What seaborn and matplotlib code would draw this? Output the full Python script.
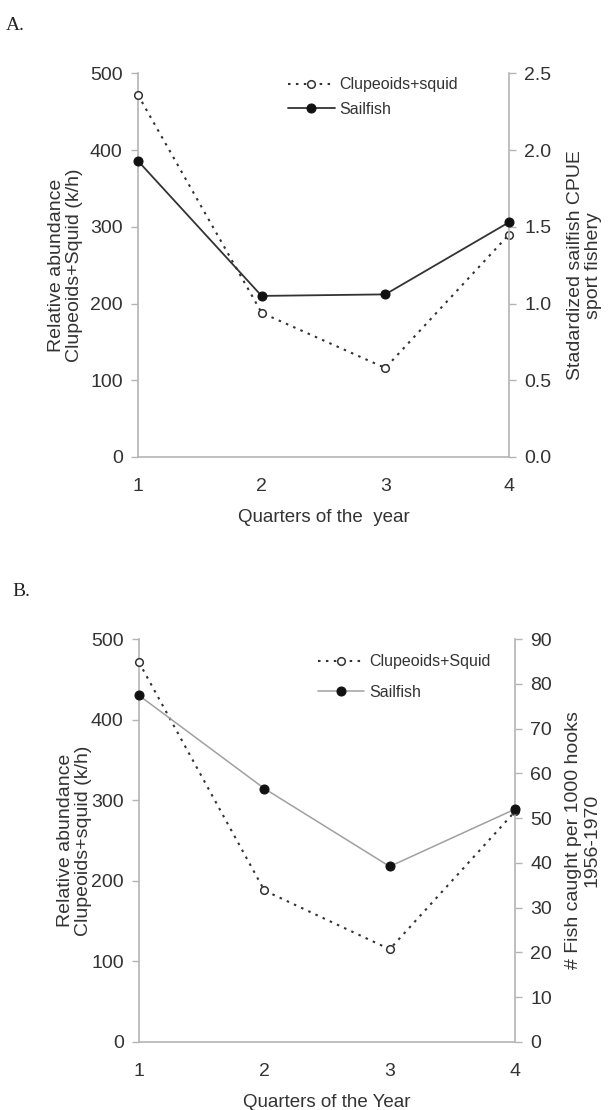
import numpy as np
import pandas as pd
import matplotlib
matplotlib.use("Agg")
import matplotlib.pyplot as plt
import seaborn as sns

# Quarterly values
quarters = [1, 2, 3, 4]
clupeoids_a = [472, 188, 116, 290]           # relative abundance (k/h)
sailfish_cpue_a = [1.93, 1.05, 1.06, 1.53]   # standardized CPUE, sport fishery
clupeoids_b = [471, 188, 115, 286]           # relative abundance (k/h)
sailfish_hooks_b = [77.4, 56.6, 39.2, 52.0]  # fish per 1000 hooks, 1956-1970

left_ticks = [0, 100, 200, 300, 400, 500]
right_ticks_a = [0.0, 0.5, 1.0, 1.5, 2.0, 2.5]
right_ticks_b = [0, 10, 20, 30, 40, 50, 60, 70, 80, 90]

sns.set_style("white")
plt.rcParams["font.family"] = ["Liberation Sans", "DejaVu Sans"]

SPINE = "#b4b4b4"
TEXT = "#333333"
FS_TICK = 14
FS_LABEL = 14
FS_LEG = 11.5

fig = plt.figure(figsize=(6.1, 11.1), dpi=100)


def style_axis(ax, side):
    for s in ax.spines.values():
        s.set_visible(False)
    ax.spines["bottom"].set_visible(True)
    ax.spines["bottom"].set_color(SPINE)
    ax.spines["bottom"].set_linewidth(1.2)
    ax.spines[side].set_visible(True)
    ax.spines[side].set_color(SPINE)
    ax.spines[side].set_linewidth(1.2)
    ax.tick_params(axis="both", colors=SPINE, labelcolor=TEXT,
                   labelsize=FS_TICK, length=5, width=1.0, direction="out")


def panel(rect, clup, sail, rticks, rlim, rfmt, llabel, rlabel, xlabel,
          sail_color, sail_lw, lcoord, rcoord):
    ax = fig.add_axes(rect)
    ax2 = ax.twinx()

    df1 = pd.DataFrame({"quarter": quarters, "value": clup})
    df2 = pd.DataFrame({"quarter": quarters, "value": sail})

    sns.lineplot(data=df1, x="quarter", y="value", ax=ax, color="#333333",
                 linestyle=(0, (1.2, 2.6)), linewidth=1.5, marker="o",
                 markersize=5.5, markerfacecolor="white",
                 markeredgecolor="#333333", markeredgewidth=1.1,
                 legend=False, clip_on=False, zorder=3)
    sns.lineplot(data=df2, x="quarter", y="value", ax=ax2, color=sail_color,
                 linewidth=sail_lw, marker="o", markersize=6.5,
                 markerfacecolor="#111111", markeredgecolor="#111111",
                 legend=False, clip_on=False, zorder=3)

    ax.set_xlim(1, 4)
    ax.set_ylim(0, 500)
    ax2.set_ylim(*rlim)
    ax.set_xticks(quarters)
    ax.set_yticks(left_ticks)
    ax2.set_yticks(rticks)
    ax2.set_yticklabels([rfmt.format(v) for v in rticks])

    style_axis(ax, "left")
    style_axis(ax2, "right")
    ax2.spines["bottom"].set_visible(False)
    ax.tick_params(axis="x", pad=11, length=4)
    ax.tick_params(axis="y", pad=6)
    ax2.tick_params(axis="y", pad=6)

    ax.set_xlabel(xlabel, fontsize=13.5, color=TEXT, labelpad=10)
    ax.set_ylabel(llabel, fontsize=FS_LABEL, color=TEXT, linespacing=1.1)
    ax2.set_ylabel(rlabel, fontsize=FS_LABEL, color=TEXT, linespacing=1.1,
                   rotation=90)
    ax.yaxis.set_label_coords(lcoord, 0.5)
    ax2.yaxis.set_label_coords(rcoord, 0.5)

    return ax, ax2, ax.lines[0], ax2.lines[0]


def add_legend(ax2, handles, labels, anchor, spacing):
    leg = ax2.legend(handles, labels, loc="upper left", bbox_to_anchor=anchor,
                     frameon=False, fontsize=FS_LEG, handlelength=2.9,
                     handletextpad=0.3, labelspacing=spacing,
                     borderaxespad=0.0, borderpad=0.0)
    for t in leg.get_texts():
        t.set_color(TEXT)
    return leg


# Panel A
axA, axA2, hA1, hA2 = panel(
    [0.2262, 0.5883, 0.6082, 0.3455], clupeoids_a, sailfish_cpue_a,
    right_ticks_a, (0, 2.5), "{:.1f}",
    "Relative abundance\nClupeoids+Squid (k/h)",
    "Stadardized sailfish CPUE\nsport fishery",
    "Quarters of the  year", "#333333", 1.3, -0.148, 1.156)
add_legend(axA2, [hA1, hA2], ["Clupeoids+squid", "Sailfish"],
           (0.405, 0.99), 0.6)

# Panel B
axB, axB2, hB1, hB2 = panel(
    [0.2279, 0.0613, 0.6164, 0.3630], clupeoids_b, sailfish_hooks_b,
    right_ticks_b, (0, 90), "{:.0f}",
    "Relative abundance\nClupeoids+squid (k/h)",
    "# Fish caught per 1000 hooks\n1956-1970",
    "Quarters of the Year", "#a0a0a0", 1.1, -0.125, 1.133)
add_legend(axB2, [hB1, hB2], ["Clupeoids+Squid", "Sailfish"],
           (0.476, 0.962), 0.95)

fig.text(0.01, 0.977, "A.", fontsize=14, family="Liberation Serif",
         color="#222222", va="center", ha="left")
fig.text(0.02, 0.467, "B.", fontsize=14, family="Liberation Serif",
         color="#222222", va="center", ha="left")

fig.savefig("out.png", dpi=100, facecolor="white")
